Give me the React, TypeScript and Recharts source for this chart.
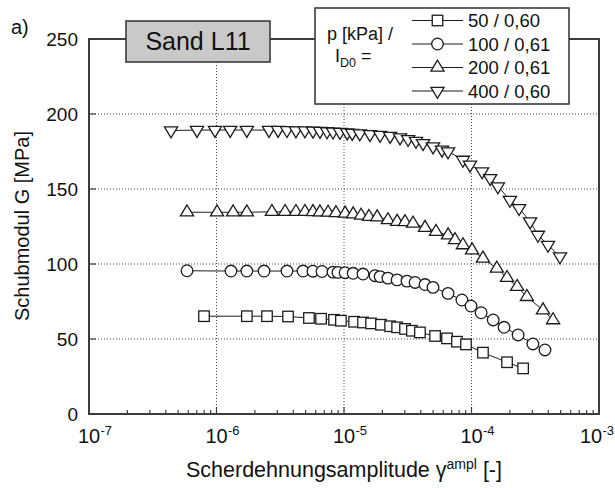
import React from 'react';
import { LineChart, Line, XAxis, YAxis, ReferenceLine, ReferenceArea } from 'recharts';

// ---------- data ----------
const gamma50 = [7.98e-7, 1.73e-6, 2.49e-6, 3.64e-6, 5.31e-6, 6.61e-6, 8.35e-6, 9.46e-6, 1.2e-5, 1.41e-5, 1.63e-5, 1.95e-5, 2.3e-5, 2.61e-5, 3.01e-5, 3.41e-5, 3.94e-5, 5.18e-5, 6.43e-5, 7.69e-5, 9.05e-5, 1.23e-4, 1.9e-4, 2.54e-4];
const g50 = [65.2, 65.2, 65.2, 65, 64, 63.5, 62.8, 62.2, 61.5, 61, 60.4, 59.5, 58.5, 57.8, 56.7, 55.5, 54.4, 52, 50.4, 48.2, 46.4, 40.9, 34.5, 30.4];

const gamma100 = [5.87e-7, 1.3e-6, 1.73e-6, 2.36e-6, 3.57e-6, 4.77e-6, 5.71e-6, 6.72e-6, 8.2e-6, 8.97e-6, 1.02e-5, 1.18e-5, 1.41e-5, 1.75e-5, 1.92e-5, 2.21e-5, 2.61e-5, 3.12e-5, 3.61e-5, 4.32e-5, 4.99e-5, 6.55e-5, 8.41e-5, 9.91e-5, 1.19e-4, 1.48e-4, 1.8e-4, 2.32e-4, 3.03e-4, 3.77e-4];
const g100 = [95.5, 95.3, 95.3, 95.3, 95.3, 95.3, 95.2, 95, 94.6, 94.4, 94.2, 93.8, 93.3, 92.2, 91.6, 90.6, 89.4, 88.6, 87.7, 86.3, 84.4, 80.4, 76, 72, 67.5, 62.7, 57.8, 52.7, 46.7, 42.7];

const gamma200 = [5.87e-7, 1.01e-6, 1.35e-6, 1.73e-6, 2.72e-6, 3.45e-6, 4.2e-6, 4.94e-6, 5.71e-6, 6.48e-6, 7.5e-6, 8.65e-6, 1.02e-5, 1.18e-5, 1.36e-5, 1.57e-5, 1.82e-5, 2.21e-5, 2.61e-5, 3.01e-5, 3.48e-5, 4.32e-5, 5.27e-5, 6.55e-5, 7.43e-5, 8.57e-5, 1.01e-4, 1.23e-4, 1.58e-4, 1.9e-4, 2.28e-4, 2.72e-4, 3.64e-4, 4.36e-4];
const g200 = [134.5, 134.5, 134.5, 134.5, 134.8, 134.8, 134.8, 134.8, 134.7, 134.5, 134.3, 134, 133.7, 133.2, 132.3, 131.5, 131.2, 129.3, 128.2, 128, 127, 124.2, 121.5, 119.2, 116, 112.6, 109.2, 103.7, 97, 90.8, 84.8, 78.1, 69.2, 62.6];

const gamma400 = [4.4e-7, 7.03e-7, 9.73e-7, 1.28e-6, 1.73e-6, 2.58e-6, 3.04e-6, 3.57e-6, 4.2e-6, 4.94e-6, 5.71e-6, 6.48e-6, 7.36e-6, 8.2e-6, 9.3e-6, 1.06e-5, 1.16e-5, 1.33e-5, 1.6e-5, 1.92e-5, 2.3e-5, 2.75e-5, 3.18e-5, 3.67e-5, 4.17e-5, 4.99e-5, 5.87e-5, 6.55e-5, 8.57e-5, 9.73e-5, 1.21e-4, 1.4e-4, 1.61e-4, 2.0e-4, 2.36e-4, 2.88e-4, 3.32e-4, 3.98e-4, 4.94e-4];
const g400 = [189, 189.3, 189.3, 189.3, 189.3, 189.3, 189.3, 189.2, 189, 189, 188.8, 188.6, 188.4, 188.2, 188, 187.6, 187.3, 187, 186.5, 186, 185.3, 184.3, 183.2, 182, 180.5, 178.3, 176.1, 175, 169.4, 166.1, 161.7, 157.2, 151.7, 142.7, 137.2, 128.3, 119.4, 112.7, 105];

const seriesLabels = ['50 / 0,60', '100 / 0,61', '200 / 0,61', '400 / 0,60'];
const seriesMarkers = ['square', 'circle', 'up', 'down'];

const xMajorTicks = [1e-7, 1e-6, 1e-5, 1e-4, 1e-3];
const xMinorMultipliers = [2, 3, 4, 5, 6, 7, 8, 9];
const xGridValues = [1e-6, 1e-5, 1e-4];
const yTicks = [0, 50, 100, 150, 200, 250];
const yGridValues = [50, 100, 150, 200];

const titleText = 'Sand L11';
const panelLabel = 'a)';
const yTitle = 'Schubmodul G [MPa]';

// ---------- helpers ----------
const toRows = (xs: number[], ys: number[]) => xs.map((x, i) => ({ x, g: ys[i] }));
const allSeries = [
  toRows(gamma50, g50),
  toRows(gamma100, g100),
  toRows(gamma200, g200),
  toRows(gamma400, g400),
];

const xAllTicks: number[] = [];
xMajorTicks.forEach((m, i) => {
  xAllTicks.push(m);
  if (i < xMajorTicks.length - 1) xMinorMultipliers.forEach((k) => xAllTicks.push(m * k));
});

const W = 615;
const H = 488;
const INK = '#1c1c1c';
const FRAME = '#3c3c3c';
const FONT = '"Liberation Sans", Arial, Helvetica, sans-serif';

const isMajor = (v: number) => {
  const e = Math.log10(v);
  return Math.abs(e - Math.round(e)) < 1e-6;
};

const Marker = ({ kind, cx, cy }: { kind: string; cx: number; cy: number }) => {
  const sw = 1.3;
  if (kind === 'square') {
    const s = 10.5;
    return <rect x={cx - s / 2} y={cy - s / 2} width={s} height={s} fill="#fff" stroke={INK} strokeWidth={sw} />;
  }
  if (kind === 'circle') {
    return <circle cx={cx} cy={cy} r={5.8} fill="#fff" stroke={INK} strokeWidth={sw} />;
  }
  const h = 11;
  const w = 6.6;
  if (kind === 'up') {
    const pts = `${cx},${cy - (2 * h) / 3} ${cx - w},${cy + h / 3} ${cx + w},${cy + h / 3}`;
    return <polygon points={pts} fill="#fff" stroke={INK} strokeWidth={sw} />;
  }
  const pts = `${cx},${cy + (2 * h) / 3} ${cx - w},${cy - h / 3} ${cx + w},${cy - h / 3}`;
  return <polygon points={pts} fill="#fff" stroke={INK} strokeWidth={sw} />;
};

const makeDot = (kind: string) => (p: any) => {
  if (p.cx == null || p.cy == null) return <g key={`${kind}-${p.index}`} />;
  return <Marker key={`${kind}-${p.index}`} kind={kind} cx={p.cx} cy={p.cy} />;
};

const BottomTick = (props: any) => {
  const { x, y, payload } = props;
  const v = payload.value;
  const major = isMajor(v);
  const exp = String(Math.round(Math.log10(v)));
  // keep the last label inside the picture
  const supW = 11.5;
  const overflow = Math.max(0, x + 11.5 + supW - (W - 1));
  const lx = x - overflow;
  return (
    <g>
      <line x1={x} x2={x} y1={y} y2={y - (major ? 7 : 4)} stroke={FRAME} strokeWidth={1.2} />
      {major && (
        <text x={lx} y={y + 29} textAnchor="middle" fontSize={20} fontFamily={FONT} fill="#111">
          10
        </text>
      )}
      {major && (
        <text x={lx + 11.5} y={y + 21} textAnchor="start" fontSize={13} fontFamily={FONT} fill="#111">
          {exp}
        </text>
      )}
    </g>
  );
};

const TopTick = (props: any) => {
  const { x, y, payload } = props;
  const major = isMajor(payload.value);
  return <line x1={x} x2={x} y1={y} y2={y + (major ? 7 : 4)} stroke={FRAME} strokeWidth={1.2} />;
};

const LeftTick = (props: any) => {
  const { x, y, payload } = props;
  return (
    <g>
      <line x1={x} x2={x + 7} y1={y} y2={y} stroke={FRAME} strokeWidth={1.2} />
      <text x={x - 11} y={y + 6.5} textAnchor="end" fontSize={19} fontFamily={FONT} fill="#111">
        {String(payload.value)}
      </text>
    </g>
  );
};

const RightTick = (props: any) => {
  const { x, y } = props;
  return <line x1={x} x2={x - 7} y1={y} y2={y} stroke={FRAME} strokeWidth={1.2} />;
};

export default function App() {
  const legendRowY = [20.5, 44, 67.5, 91];
  return (
    <div style={{ position: 'absolute', left: 0, top: 0, width: W, height: H, background: '#fff' }}>
      <div style={{ position: 'absolute', left: 0, top: 0 }}>
        <LineChart width={W} height={H} margin={{ top: 39, right: 16, bottom: 0, left: 0 }}>
          <XAxis
            dataKey="x"
            type="number"
            scale="log"
            domain={[1e-7, 1e-3]}
            allowDataOverflow
            ticks={xAllTicks}
            interval={0}
            tickSize={0}
            tickMargin={0}
            tickLine={false}
            tick={<BottomTick />}
            height={74}
            axisLine={false}
          />
          <XAxis
            xAxisId="top"
            orientation="top"
            dataKey="x"
            type="number"
            scale="log"
            domain={[1e-7, 1e-3]}
            allowDataOverflow
            ticks={xAllTicks}
            interval={0}
            tickSize={0}
            tickMargin={0}
            tickLine={false}
            tick={<TopTick />}
            height={0}
            axisLine={false}
          />
          <YAxis
            type="number"
            domain={[0, 250]}
            allowDataOverflow
            ticks={yTicks}
            interval={0}
            tickSize={0}
            tickMargin={0}
            tickLine={false}
            tick={<LeftTick />}
            width={89}
            axisLine={false}
          />
          <YAxis
            yAxisId="right"
            orientation="right"
            type="number"
            domain={[0, 250]}
            allowDataOverflow
            ticks={yTicks}
            interval={0}
            tickSize={0}
            tickMargin={0}
            tickLine={false}
            tick={<RightTick />}
            width={0}
            axisLine={false}
          />
          {xGridValues.map((v) => (
            <ReferenceLine key={`gx${v}`} x={v} stroke="#444" strokeWidth={1} strokeDasharray="1 2" />
          ))}
          {yGridValues.map((v) => (
            <ReferenceLine key={`gy${v}`} y={v} stroke="#444" strokeWidth={1} strokeDasharray="1 2" />
          ))}
          <ReferenceArea
            x1={xMajorTicks[0]}
            x2={xMajorTicks[xMajorTicks.length - 1]}
            y1={yTicks[0]}
            y2={yTicks[yTicks.length - 1]}
            fill="none"
            fillOpacity={0}
            stroke={FRAME}
            strokeWidth={2}
            strokeOpacity={1}
          />
          {allSeries.map((rows, i) => (
            <Line
              key={seriesLabels[i]}
              data={rows}
              dataKey="g"
              type="linear"
              stroke={INK}
              strokeWidth={1}
              dot={makeDot(seriesMarkers[i])}
              activeDot={false}
              isAnimationActive={false}
            />
          ))}
        </LineChart>
      </div>
      <svg width={W} height={H} style={{ position: 'absolute', left: 0, top: 0, pointerEvents: 'none' }}>
        <text x={11} y={34} fontSize={20} fontFamily={FONT} fill="#111">{panelLabel}</text>
        <rect x={126} y={21} width={144} height={41} fill="#c9c9c9" stroke={FRAME} strokeWidth={1.6} />
        <text x={198} y={50} textAnchor="middle" fontSize={25} fontFamily={FONT} fill="#111">{titleText}</text>

        <rect x={315} y={8} width={254} height={96} fill="#fff" stroke={FRAME} strokeWidth={1.6} />
        <text x={327} y={40} fontSize={18} fontFamily={FONT} fill="#111">p [kPa] /</text>
        <text x={335} y={62} fontSize={18} fontFamily={FONT} fill="#111">
          I<tspan fontSize={12.5} dy={4.5}>D0</tspan><tspan dy={-4.5}> =</tspan>
        </text>
        {seriesLabels.map((lab, i) => (
          <g key={lab}>
            <line x1={412} x2={463} y1={legendRowY[i]} y2={legendRowY[i]} stroke={INK} strokeWidth={1} />
            <Marker kind={seriesMarkers[i]} cx={437.5} cy={legendRowY[i]} />
            <text x={468} y={legendRowY[i] + 6.5} fontSize={18.5} fontFamily={FONT} fill="#111">{lab}</text>
          </g>
        ))}

        <text
          x={22}
          y={226}
          transform="rotate(-90, 22, 226)"
          textAnchor="middle"
          dominantBaseline="central"
          fontSize={20}
          fontFamily={FONT}
          fill="#111"
        >
          {yTitle}
        </text>
        <text x={344} y={477} textAnchor="middle" fontSize={21.5} fontFamily={FONT} fill="#111">
          Scherdehnungsamplitude γ<tspan fontSize={14} dy={-8}>ampl</tspan><tspan dy={8}> [-]</tspan>
        </text>
      </svg>
    </div>
  );
}
